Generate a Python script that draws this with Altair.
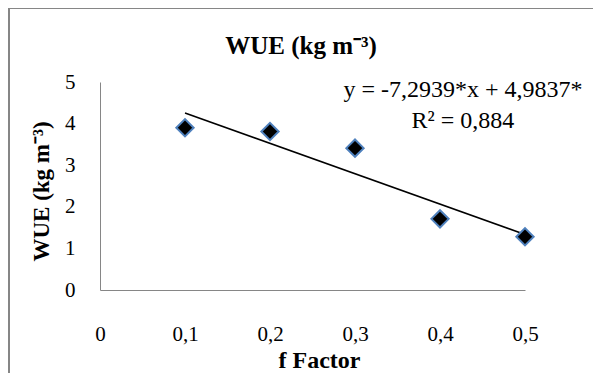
import altair as alt
import pandas as pd

# Data
f_factor = [0.1, 0.2, 0.3, 0.4, 0.5]
wue = [3.90, 3.81, 3.41, 1.71, 1.28]

# Linear trend line (equation shown on the chart)
slope = -7.2939
intercept = 4.9837
trend_x = [0.1, 0.5]
trend_y = [intercept + slope * v for v in trend_x]

# Equation annotation
eq_text = ["y = -7,2939*x + 4,9837*", "R\u00b2 = 0,884"]
eq_x = [0.427, 0.427]
eq_y = [4.81, 4.07]

chart_title = ["WUE (kg m\u207b\u00b3)"]

x_ticks = [0, 0.1, 0.2, 0.3, 0.4, 0.5]
y_ticks = [0, 1, 2, 3, 4, 5]

FONT = "Liberation Serif"
AXIS_GRAY = "#868686"

pts = pd.DataFrame({"x": f_factor, "y": wue})
trend = pd.DataFrame({"x": trend_x, "y": trend_y})
eq = pd.DataFrame({"x": eq_x, "y": eq_y, "t": eq_text})
ttl = pd.DataFrame({"t": chart_title})

label_expr = "replace(format(datum.value, '~g'), '.', ',')"

x_scale = alt.Scale(domain=[0, 0.5], nice=False, zero=True)
y_scale = alt.Scale(domain=[0, 5], nice=False, zero=True)

x_enc = alt.X(
    "x:Q",
    scale=x_scale,
    axis=alt.Axis(
        title="f Factor",
        values=x_ticks,
        labelExpr=label_expr,
        labelFlush=False,
        labelPadding=33,
        titlePadding=4,
        titleFontSize=24,
        titleX=219,
    ),
)
y_enc = alt.Y(
    "y:Q",
    scale=y_scale,
    axis=alt.Axis(
        title="WUE (kg m\u207b\u00b3)",
        values=y_ticks,
        labelExpr=label_expr,
        labelFlush=False,
        labelPadding=25,
        titleFontSize=23,
        titleX=-59,
        titleY=109,
        titleBaseline="middle",
    ),
)

line = alt.Chart(trend).mark_line(color="black", strokeWidth=1.6).encode(
    x=x_enc, y=y_enc
)
points = alt.Chart(pts).mark_point(
    shape="diamond", filled=True, fill="black", stroke="#4F81BD",
    strokeWidth=2, size=300, opacity=1
).encode(x=x_enc, y=y_enc)

eq_mark = alt.Chart(eq).mark_text(
    font=FONT, fontSize=24, color="black", align="center", baseline="middle"
).encode(x="x:Q", y="y:Q", text="t:N")

title_mark = alt.Chart(ttl).mark_text(
    font=FONT, fontSize=25, fontWeight="bold", color="black",
    align="center", baseline="alphabetic"
).encode(x=alt.value(201), y=alt.value(-28), text="t:N")

border_left = alt.Chart(pts).mark_rule(color=AXIS_GRAY, strokeWidth=2).encode(
    x=alt.value(-91), y=alt.value(-74), y2=alt.value(400)
)
border_top = alt.Chart(pts).mark_rule(color=AXIS_GRAY, strokeWidth=1).encode(
    x=alt.value(-92), x2=alt.value(600), y=alt.value(-73.5)
)

chart = alt.layer(
    line, points, eq_mark, title_mark, border_left, border_top
).properties(
    width=425,
    height=208,
    autosize=alt.AutoSizeParams(type="none"),
    padding={"left": 92, "top": 74, "right": 68, "bottom": 83},
).configure(
    background="white", font=FONT
).configure_view(
    stroke=None
).configure_axis(
    grid=False,
    ticks=False,
    domainColor=AXIS_GRAY,
    domainWidth=1,
    labelFont=FONT,
    labelFontSize=21,
    labelColor="black",
    titleFont=FONT,
    titleFontWeight="bold",
    titleColor="black",
)

chart.save("out.html", embed_options={"renderer": "svg", "actions": False})
